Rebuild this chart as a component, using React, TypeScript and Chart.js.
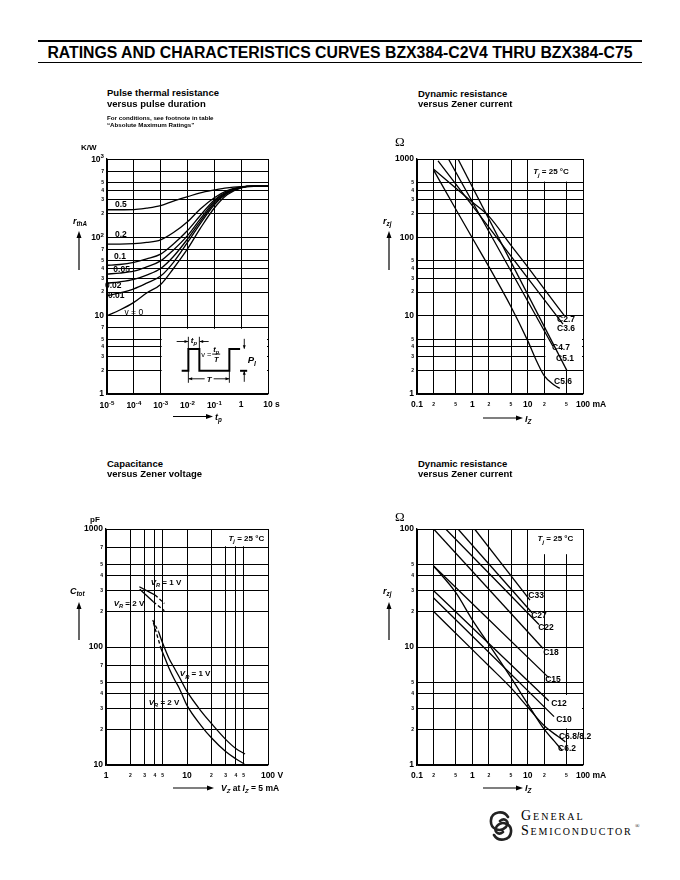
import React, { useEffect, useRef } from 'react';
import { Chart, registerables } from 'chart.js';
Chart.register(...registerables);

const FONT = '"Liberation Sans", Arial, Helvetica, sans-serif';
const SERIF = '"Liberation Serif", "DejaVu Serif", serif';

// ---------------- Figure 1: pulse thermal resistance ----------------
const PULSE_T = [1e-5, 3e-5, 1e-4, 3e-4, 1e-3, 3e-3, 1e-2, 3e-2, 0.1, 0.3, 1, 3, 10];
const RTH_V050 = [225, 225, 226, 236, 254, 290, 330, 370, 402, 428, 444, 450, 450];
const RTH_V020 = [82, 82, 83, 86, 93, 115, 158, 230, 320, 395, 440, 450, 450];
const RTH_V010 = [44, 45, 48, 53, 61, 82, 122, 190, 300, 385, 438, 450, 450];
const RTH_V005 = [34, 35, 37, 42, 50, 69, 105, 172, 288, 378, 436, 450, 450];
const RTH_V002 = [26, 27, 29, 33, 40, 57, 95, 160, 274, 370, 434, 450, 450];
const RTH_V001 = [18, 19.5, 22, 26, 32, 48, 86, 150, 261, 362, 432, 450, 450];
const RTH_V000 = [10, 11.8, 14.8, 19.5, 25, 40, 71, 130, 237, 350, 428, 448, 450];
const DUTY_LABELS = ['0.5', '0.2', '0.1', '0.05', '0.02', '0.01', 'v = 0'];
const T_TICKS = [1e-5, 1e-4, 1e-3, 1e-2, 1e-1, 1, 10];
const T_TICK_LABELS = ['10^-5', '10^-4', '10^-3', '10^-2', '10^-1', '1', '10'];
const RTH_TICKS = [1, 2, 3, 4, 5, 7, 10, 20, 30, 40, 50, 70, 100, 200, 300, 400, 500, 700, 1000];
const RTH_TICK_LABELS = ['1', '2', '3', '4', '5', '7', '10', '2', '3', '4', '5', '7', '10^2', '2', '3', '4', '5', '7', '10^3'];

// ---------------- Figure 2: dynamic resistance C2.7 .. C5.6 ----------------
const RZ1_C27_I = [0.2, 0.5, 1, 2, 5, 10, 20, 46];
const RZ1_C27_R = [740, 425, 281, 185, 79, 42, 21.8, 10];
const RZ1_C36_I = [0.24, 43.5];
const RZ1_C36_R = [945, 7.8];
const RZ1_C47_I = [0.37, 28.4];
const RZ1_C47_R = [1000, 4.1];
const RZ1_C51_I = [0.55, 51];
const RZ1_C51_R = [1000, 2.0];
const RZ1_C56_I = [0.2, 0.5, 1, 2, 5, 10, 15, 20, 30, 38];
const RZ1_C56_R = [720, 230, 98, 42, 13, 4.8, 2.5, 1.7, 1.3, 1.18];
const RZ1_NAMES = ['C2.7', 'C3.6', 'C4.7', 'C5.1', 'C5.6'];

// ---------------- Figure 3: capacitance ----------------
const CAP_VR1_UP_SOLID_V = [2.58, 4.03];
const CAP_VR1_UP_SOLID_C = [324, 276];
const CAP_VR1_UP_DASH_V = [4.03, 5.25];
const CAP_VR1_UP_DASH_C = [276, 234];
const CAP_VR2_UP_SOLID_V = [2.61, 3.84];
const CAP_VR2_UP_SOLID_C = [308, 242];
const CAP_VR2_UP_DASH_V = [3.84, 5.25];
const CAP_VR2_UP_DASH_C = [242, 203];
const CAP_VR1_LO_DASH_V = [3.77, 4.45];
const CAP_VR1_LO_DASH_C = [169, 135];
const CAP_VR2_LO_DASH_V = [3.85, 4.8];
const CAP_VR2_LO_DASH_C = [160, 96];
const CAP_VR1_V = [4.45, 5, 6, 7, 8, 10, 15, 20, 30, 40, 52];
const CAP_VR1_C = [135, 108, 80, 66, 56, 42, 28.5, 22.5, 16.5, 13.8, 12.4];
const CAP_VR2_V = [4.8, 5, 6, 7, 8, 10, 15, 20, 30, 40, 51];
const CAP_VR2_C = [96, 90, 66, 53, 45, 32, 21.5, 17, 13, 11.3, 10.2];
const VZ_TICKS = [1, 2, 3, 4, 5, 10, 20, 30, 40, 50, 100];
const VZ_TICK_LABELS = ['1', '2', '3', '4', '5', '10', '2', '3', '4', '5', '100'];
const CAP_TICKS = [10, 20, 30, 40, 50, 70, 100, 200, 300, 400, 500, 700, 1000];
const CAP_TICK_LABELS = ['10', '2', '3', '4', '5', '7', '100', '2', '3', '4', '5', '7', '1000'];

// ---------------- Figure 4: dynamic resistance C6.2 .. C33 ----------------
const RZ2_C33_I = [1.1, 11];
const RZ2_C33_R = [100, 25];
const RZ2_C27_I = [0.55, 12];
const RZ2_C27_R = [100, 19.5];
const RZ2_C22_I = [0.33, 16];
const RZ2_C22_R = [100, 15.5];
const RZ2_C18_I = [0.2, 19];
const RZ2_C18_R = [100, 9.7];
const RZ2_C15_I = [0.2, 24];
const RZ2_C15_R = [48.5, 5.5];
const RZ2_C12_I = [0.2, 24];
const RZ2_C12_R = [30, 3.5];
const RZ2_C10_I = [0.2, 30];
const RZ2_C10_R = [26, 2.57];
const RZ2_C68_I = [0.2, 1, 2, 5, 10, 20, 35, 48];
const RZ2_C68_R = [20, 9.5, 6.9, 4.5, 3.1, 2.15, 1.75, 1.57];
const RZ2_C62_I = [0.2, 0.5, 1, 2, 5, 10, 20, 30, 42];
const RZ2_C62_R = [48.5, 29, 17, 10.5, 5.5, 3.3, 2.0, 1.6, 1.33];
const RZ2_NAMES = ['C33', 'C27', 'C22', 'C18', 'C15', 'C12', 'C10', 'C6.8/8.2', 'C6.2'];

const IZ_TICKS = [0.1, 0.2, 0.5, 1, 2, 5, 10, 20, 50, 100];
const IZ_TICK_LABELS = ['0.1', '2', '5', '1', '2', '5', '10', '2', '5', '100'];
const RZ1_TICKS = [1, 2, 3, 4, 5, 10, 20, 30, 40, 50, 100, 200, 300, 400, 500, 1000];
const RZ1_TICK_LABELS = ['1', '2', '3', '4', '5', '10', '2', '3', '4', '5', '100', '2', '3', '4', '5', '1000'];
const RZ2_TICKS = [1, 2, 3, 4, 5, 10, 20, 30, 40, 50, 100];
const RZ2_TICK_LABELS = ['1', '2', '3', '4', '5', '10', '2', '3', '4', '5', '100'];

// ---------------- layout ----------------
const PAD = { l: 45, t: 12, r: 32, b: 30 };
const XPAD = 6;
const MAJOR_SIZE = 8.5;
const MINOR_SIZE = 5;
const LINE_H = MAJOR_SIZE * 1.2;
type Rect = { l: number; t: number; r: number; b: number };
const R1: Rect = { l: 107, t: 159, r: 268, b: 394 };
const R2: Rect = { l: 417, t: 159, r: 583, b: 394 };
const R3: Rect = { l: 106, t: 529, r: 268, b: 765 };
const R4: Rect = { l: 417, t: 529, r: 583, b: 765 };

type Seg = { t: string; i?: boolean; sub?: boolean; sup?: boolean };

function drawRich(ctx: any, segs: Seg[], x: number, y: number, size: number, align = 'left', weight = 'bold') {
  const f = (s: Seg) => `${s.i ? 'italic ' : ''}${weight} ${s.sub || s.sup ? size * 0.72 : size}px ${FONT}`;
  let w = 0;
  for (const s of segs) { ctx.font = f(s); w += ctx.measureText(s.t).width; }
  let cx = align === 'center' ? x - w / 2 : align === 'right' ? x - w : x;
  const base = y + size * 0.36;
  ctx.textAlign = 'left';
  ctx.textBaseline = 'alphabetic';
  for (const s of segs) {
    ctx.font = f(s);
    const dy = s.sub ? size * 0.32 : s.sup ? -size * 0.42 : 0;
    ctx.fillText(s.t, cx, base + dy);
    cx += ctx.measureText(s.t).width;
  }
  return w;
}

function powerSegs(label: string): Seg[] {
  const [m, e] = label.split('^');
  return [{ t: m }, { t: e, sup: true }];
}

function arrowHead(ctx: any, x: number, y: number, dir: string, s = 3) {
  ctx.beginPath();
  if (dir === 'r') { ctx.moveTo(x, y); ctx.lineTo(x - s * 1.6, y - s * 0.6); ctx.lineTo(x - s * 1.6, y + s * 0.6); }
  if (dir === 'l') { ctx.moveTo(x, y); ctx.lineTo(x + s * 1.6, y - s * 0.6); ctx.lineTo(x + s * 1.6, y + s * 0.6); }
  if (dir === 'd') { ctx.moveTo(x, y); ctx.lineTo(x - s * 0.6, y - s * 1.6); ctx.lineTo(x + s * 0.6, y - s * 1.6); }
  if (dir === 'u') { ctx.moveTo(x, y); ctx.lineTo(x - s * 0.6, y + s * 1.6); ctx.lineTo(x + s * 0.6, y + s * 1.6); }
  ctx.closePath();
  ctx.fill();
}

function seg(ctx: any, x1: number, y1: number, x2: number, y2: number) {
  ctx.beginPath(); ctx.moveTo(x1, y1); ctx.lineTo(x2, y2); ctx.stroke();
}

function axis(kind: 'x' | 'y', min: number, max: number, ticks: number[], labels: string[], majors: number[]) {
  return {
    type: 'logarithmic',
    position: kind === 'x' ? 'bottom' : 'left',
    min, max,
    afterBuildTicks: (s: any) => { s.ticks = ticks.map((v) => ({ value: v })); },
    afterFit: (s: any) => { if (kind === 'x') s.height = PAD.b; else s.width = PAD.l; },
    ticks: {
      autoSkip: false, maxRotation: 0, minRotation: 0, color: '#000',
      padding: kind === 'x' ? XPAD : 3,
      crossAlign: 'near',
      font: (c: any) => {
        const major = c.tick && majors.includes(c.tick.value);
        const size = major ? MAJOR_SIZE : MINOR_SIZE;
        return { family: FONT, weight: 'bold', size, lineHeight: LINE_H / size };
      },
      callback: (_v: any, i: number) => (labels[i].includes('^') ? '' : labels[i]),
    },
    grid: { color: '#000', lineWidth: 1, drawTicks: false },
    border: { color: '#000', width: 1.3 },
  };
}

function line(xs: number[], ys: number[], dash: number[] = []) {
  return {
    data: xs.map((x, i) => ({ x, y: ys[i] })),
    showLine: true, borderColor: '#000', backgroundColor: '#000', borderWidth: 1.3,
    pointRadius: 0, fill: false, cubicInterpolationMode: 'monotone', borderDash: dash,
  };
}

function overlay(boxes: number[][], draw: (ctx: any, X: (v: number) => number, Y: (v: number) => number, chart: any) => void) {
  return {
    id: 'overlay',
    beforeDatasetsDraw(chart: any) {
      const ctx = chart.ctx, xs = chart.scales.x, ys = chart.scales.y;
      ctx.save();
      ctx.fillStyle = '#fff';
      for (const [x1, x2, y1, y2] of boxes) {
        const L = xs.getPixelForValue(x1) + 1, Rr = xs.getPixelForValue(x2) - 1;
        const T = ys.getPixelForValue(y2) + 1, B = ys.getPixelForValue(y1) - 1;
        ctx.fillRect(L, T, Rr - L, B - T);
      }
      ctx.restore();
    },
    afterDraw(chart: any) {
      const ctx = chart.ctx;
      ctx.save();
      ctx.fillStyle = '#000';
      ctx.strokeStyle = '#000';
      draw(ctx, (v) => chart.scales.x.getPixelForValue(v), (v) => chart.scales.y.getPixelForValue(v), chart);
      ctx.restore();
    },
  };
}

function xLabelY(chart: any) {
  return chart.scales.x.top + XPAD + LINE_H / 2;
}

function unitSuffix(ctx: any, chart: any, value: number, numText: string, unit: string) {
  const xs = chart.scales.x;
  ctx.font = `bold ${MAJOR_SIZE}px ${FONT}`;
  const w = ctx.measureText(numText).width;
  ctx.textAlign = 'left';
  ctx.textBaseline = 'middle';
  ctx.fillText(unit, xs.getPixelForValue(value) + w / 2, xLabelY(chart));
}

function tjLabel(ctx: any, x: number, y: number) {
  drawRich(ctx, [{ t: 'T', i: true }, { t: 'j', i: true, sub: true }, { t: ' = 25 °C' }], x, y, 8, 'center');
}

function makeConfig(datasets: any[], xA: any, yA: any, plugin: any) {
  return {
    type: 'scatter',
    data: { datasets },
    options: {
      responsive: false, animation: false, events: [],
      layout: { padding: { left: 0, top: PAD.t, right: PAD.r, bottom: 0 } },
      plugins: { legend: { display: false }, tooltip: { enabled: false } },
      scales: { x: xA, y: yA },
    },
    plugins: [plugin],
  };
}

// ---------- chart builders ----------
function buildPulse() {
  const series = [RTH_V050, RTH_V020, RTH_V010, RTH_V005, RTH_V002, RTH_V001, RTH_V000];
  const labelPos = [[3.3e-5, 265], [3.3e-5, 107], [3.05e-5, 56], [3.5e-5, 39], [1.7e-5, 24.5], [2.2e-5, 17.8], [1.0e-4, 11]];
  const plugin = overlay([[1e-3, 10, 1, 7]], (ctx, X, Y, chart) => {
    // power-of-ten tick labels
    T_TICKS.forEach((v, i) => {
      if (T_TICK_LABELS[i].includes('^')) drawRich(ctx, powerSegs(T_TICK_LABELS[i]), X(v), xLabelY(chart), MAJOR_SIZE, 'center');
    });
    RTH_TICKS.forEach((v, i) => {
      if (RTH_TICK_LABELS[i].includes('^')) drawRich(ctx, powerSegs(RTH_TICK_LABELS[i]), chart.scales.y.right - 3, Y(v), MAJOR_SIZE, 'right');
    });
    ctx.textAlign = 'center';
    ctx.textBaseline = 'middle';
    DUTY_LABELS.forEach((lb, i) => {
      ctx.font = `${i === 6 ? 'normal' : 'bold'} 8.5px ${FONT}`;
      ctx.fillText(lb, X(labelPos[i][0]), Y(labelPos[i][1]));
    });
    unitSuffix(ctx, chart, 10, '10', ' s');
    // pulse inset
    const ax = X(1e-3), ay = Y(7);
    ctx.lineWidth = 2;
    ctx.beginPath();
    const wave = [[21, 43], [27.7, 43], [27.7, 21.3], [38.7, 21.3], [38.7, 43], [68.7, 43], [68.7, 21.3], [79.4, 21.3]];
    wave.forEach(([dx, dy], k) => (k ? ctx.lineTo(ax + dx, ay + dy) : ctx.moveTo(ax + dx, ay + dy)));
    ctx.stroke();
    seg(ctx, ax + 79.4, ay + 43, ax + 86.5, ay + 43);
    ctx.lineWidth = 0.9;
    seg(ctx, ax + 27.7, ay + 9, ax + 27.7, ay + 21.3);
    seg(ctx, ax + 38.7, ay + 9, ax + 38.7, ay + 21.3);
    seg(ctx, ax + 16, ay + 13.7, ax + 27.2, ay + 13.7);
    arrowHead(ctx, ax + 27.7, ay + 13.7, 'r', 2.4);
    seg(ctx, ax + 48, ay + 13.7, ax + 39.2, ay + 13.7);
    arrowHead(ctx, ax + 38.7, ay + 13.7, 'l', 2.4);
    seg(ctx, ax + 27.7, ay + 43, ax + 27.7, ay + 55);
    seg(ctx, ax + 68.7, ay + 43, ax + 68.7, ay + 55);
    seg(ctx, ax + 28, ay + 51, ax + 44, ay + 51);
    seg(ctx, ax + 53, ay + 51, ax + 68.4, ay + 51);
    arrowHead(ctx, ax + 27.7, ay + 51, 'l', 2.4);
    arrowHead(ctx, ax + 68.7, ay + 51, 'r', 2.4);
    seg(ctx, ax + 83.6, ay + 11, ax + 83.6, ay + 20.8);
    arrowHead(ctx, ax + 83.6, ay + 21.3, 'd', 2.4);
    seg(ctx, ax + 83.6, ay + 54, ax + 83.6, ay + 43.5);
    arrowHead(ctx, ax + 83.6, ay + 43, 'u', 2.4);
    drawRich(ctx, [{ t: 't', i: true }, { t: 'p', i: true, sub: true }], ax + 33.2, ay + 12, 8, 'center');
    drawRich(ctx, [{ t: 'T', i: true }], ax + 48.5, ay + 51, 8, 'center');
    drawRich(ctx, [{ t: 'v =' }], ax + 40.5, ay + 26.5, 7.5, 'left', 'normal');
    drawRich(ctx, [{ t: 't', i: true }, { t: 'p', i: true, sub: true }], ax + 55.5, ay + 21.5, 7.5, 'center');
    ctx.lineWidth = 0.9;
    seg(ctx, ax + 51.5, ay + 26.3, ax + 59.5, ay + 26.3);
    drawRich(ctx, [{ t: 'T', i: true }], ax + 55.5, ay + 31, 7.5, 'center');
    drawRich(ctx, [{ t: 'P', i: true }, { t: 'I', i: true, sub: true }], ax + 87, ay + 31.5, 9.5, 'left');
  });
  return makeConfig(
    series.map((s) => line(PULSE_T, s)),
    axis('x', 1e-5, 10, T_TICKS, T_TICK_LABELS, [1e-5, 1e-4, 1e-3, 1e-2, 1e-1, 1, 10]),
    axis('y', 1, 1000, RTH_TICKS, RTH_TICK_LABELS, [1, 10, 100, 1000]),
    plugin,
  );
}

function buildRz1() {
  const labelPos = [[49.3, 8.8], [49.3, 6.76], [40, 3.93], [47.3, 2.84], [43.6, 1.44]];
  const plugin = overlay([[10, 100, 500, 1000], [20, 100, 2, 10]], (ctx, X, Y, chart) => {
    tjLabel(ctx, X(26.4), Y(700));
    ctx.textAlign = 'center';
    ctx.textBaseline = 'middle';
    ctx.font = `bold 8.5px ${FONT}`;
    RZ1_NAMES.forEach((n, i) => ctx.fillText(n, X(labelPos[i][0]), Y(labelPos[i][1])));
    unitSuffix(ctx, chart, 100, '100', ' mA');
  });
  return makeConfig(
    [
      line(RZ1_C27_I, RZ1_C27_R), line(RZ1_C36_I, RZ1_C36_R), line(RZ1_C47_I, RZ1_C47_R),
      line(RZ1_C51_I, RZ1_C51_R), line(RZ1_C56_I, RZ1_C56_R),
    ],
    axis('x', 0.1, 100, IZ_TICKS, IZ_TICK_LABELS, [0.1, 1, 10, 100]),
    axis('y', 1, 1000, RZ1_TICKS, RZ1_TICK_LABELS, [1, 10, 100, 1000]),
    plugin,
  );
}

function buildCap() {
  const vr = (n: string): Seg[] => [{ t: 'V', i: true }, { t: 'R', i: true, sub: true }, { t: ` = ${n} V` }];
  const plugin = overlay([[20, 100, 700, 1000]], (ctx, X, Y, chart) => {
    tjLabel(ctx, X(54), Y(840));
    drawRich(ctx, vr('1'), X(5.5), Y(356), 8, 'center');
    drawRich(ctx, vr('2'), X(1.92), Y(236), 8, 'center');
    drawRich(ctx, vr('1'), X(12.6), Y(60), 8, 'center');
    drawRich(ctx, vr('2'), X(5.2), Y(34.2), 8, 'center');
    unitSuffix(ctx, chart, 100, '100', ' V');
  });
  const D = [3.5, 2.5];
  return makeConfig(
    [
      line(CAP_VR1_UP_SOLID_V, CAP_VR1_UP_SOLID_C), line(CAP_VR1_UP_DASH_V, CAP_VR1_UP_DASH_C, D),
      line(CAP_VR2_UP_SOLID_V, CAP_VR2_UP_SOLID_C), line(CAP_VR2_UP_DASH_V, CAP_VR2_UP_DASH_C, D),
      line(CAP_VR1_LO_DASH_V, CAP_VR1_LO_DASH_C, D), line(CAP_VR2_LO_DASH_V, CAP_VR2_LO_DASH_C, D),
      line(CAP_VR1_V, CAP_VR1_C), line(CAP_VR2_V, CAP_VR2_C),
    ],
    axis('x', 1, 100, VZ_TICKS, VZ_TICK_LABELS, [1, 10, 100]),
    axis('y', 10, 1000, CAP_TICKS, CAP_TICK_LABELS, [10, 100, 1000]),
    plugin,
  );
}

function buildRz2() {
  const labelPos = [[14.2, 27.1], [16, 18.3], [21.4, 14.6], [26.4, 8.9], [28.7, 5.25], [36.8, 3.29], [45.4, 2.4], [71.8, 1.74], [51.4, 1.37]];
  const plugin = overlay([[10, 100, 60, 100], [20, 100, 2, 4]], (ctx, X, Y, chart) => {
    tjLabel(ctx, X(31.8), Y(83.4));
    ctx.textAlign = 'center';
    ctx.textBaseline = 'middle';
    ctx.font = `bold 8.5px ${FONT}`;
    RZ2_NAMES.forEach((n, i) => ctx.fillText(n, X(labelPos[i][0]), Y(labelPos[i][1])));
    unitSuffix(ctx, chart, 100, '100', ' mA');
  });
  return makeConfig(
    [
      line(RZ2_C33_I, RZ2_C33_R), line(RZ2_C27_I, RZ2_C27_R), line(RZ2_C22_I, RZ2_C22_R),
      line(RZ2_C18_I, RZ2_C18_R), line(RZ2_C15_I, RZ2_C15_R), line(RZ2_C12_I, RZ2_C12_R),
      line(RZ2_C10_I, RZ2_C10_R), line(RZ2_C68_I, RZ2_C68_R), line(RZ2_C62_I, RZ2_C62_R),
    ],
    axis('x', 0.1, 100, IZ_TICKS, IZ_TICK_LABELS, [0.1, 1, 10, 100]),
    axis('y', 1, 100, RZ2_TICKS, RZ2_TICK_LABELS, [1, 10, 100]),
    plugin,
  );
}

function ChartPanel({ rect, build }: { rect: Rect; build: () => any }) {
  const ref = useRef<HTMLCanvasElement>(null);
  const W = rect.r - rect.l + PAD.l + PAD.r;
  const H = rect.b - rect.t + PAD.t + PAD.b;
  useEffect(() => {
    const chart = new Chart(ref.current as HTMLCanvasElement, build() as any);
    return () => chart.destroy();
  }, []);
  return (
    <canvas
      ref={ref}
      width={W}
      height={H}
      style={{ position: 'absolute', left: rect.l - PAD.l, top: rect.t - PAD.t, width: W, height: H }}
    />
  );
}

function Txt({ x, y, size, children, w = 'bold', it = false, fam = FONT, extra = {} }: any) {
  return (
    <div
      style={{
        position: 'absolute', left: x, top: y - size * 0.55, fontSize: size, lineHeight: 1,
        fontWeight: w, fontStyle: it ? 'italic' : 'normal', fontFamily: fam, whiteSpace: 'nowrap', ...extra,
      }}
    >
      {children}
    </div>
  );
}

const Sub = ({ children }: any) => (
  <span style={{ fontSize: '70%', verticalAlign: '-0.3em' }}>{children}</span>
);

const PAGE_TITLE = 'RATINGS AND CHARACTERISTICS CURVES BZX384-C2V4 THRU BZX384-C75';

function UpArrow({ x, y1, y2 }: any) {
  return (
    <g>
      <line x1={x} y1={y1} x2={x} y2={y2 + 5} stroke="#000" strokeWidth={1.2} />
      <polygon points={`${x},${y2} ${x - 2.5},${y2 + 7} ${x + 2.5},${y2 + 7}`} fill="#000" />
    </g>
  );
}
function RightArrow({ y, x1, x2 }: any) {
  return (
    <g>
      <line x1={x1} y1={y} x2={x2 - 5} y2={y} stroke="#000" strokeWidth={1.2} />
      <polygon points={`${x2},${y} ${x2 - 7},${y - 2.5} ${x2 - 7},${y + 2.5}`} fill="#000" />
    </g>
  );
}

export default function App() {
  return (
    <div style={{ position: 'absolute', left: 0, top: 0, width: 680, height: 880, background: '#fff', color: '#000', fontFamily: FONT, overflow: 'hidden' }}>
      <div style={{ position: 'absolute', left: 38, top: 40, width: 604, height: 2, background: '#000' }} />
      <div style={{ position: 'absolute', left: 38, top: 62, width: 604, height: 1, background: '#000' }} />
      <div style={{ position: 'absolute', left: 38, top: 44, width: 604, textAlign: 'center', fontWeight: 'bold', fontSize: 15.8, lineHeight: '17px', whiteSpace: 'nowrap' }}>
        {PAGE_TITLE}
      </div>

      <ChartPanel rect={R1} build={buildPulse} />
      <ChartPanel rect={R2} build={buildRz1} />
      <ChartPanel rect={R3} build={buildCap} />
      <ChartPanel rect={R4} build={buildRz2} />

      {/* figure 1 texts */}
      <Txt x={107} y={93} size={9.5}>Pulse thermal resistance</Txt>
      <Txt x={107} y={104} size={9.5}>versus pulse duration</Txt>
      <Txt x={107} y={118} size={6.2}>For conditions, see footnote in table</Txt>
      <Txt x={107} y={125} size={6.2}>“Absolute Maximum Ratings”</Txt>
      <Txt x={81} y={148.5} size={8}>K/W</Txt>
      <Txt x={73} y={222} size={9} it>r<Sub>thA</Sub></Txt>
      <Txt x={215} y={418} size={9} it>t<Sub>p</Sub></Txt>

      {/* figure 2 texts */}
      <Txt x={418} y={94} size={9.5}>Dynamic resistance</Txt>
      <Txt x={418} y={104.5} size={9.5}>versus Zener current</Txt>
      <Txt x={395} y={142} size={13} w="normal" fam={SERIF}>Ω</Txt>
      <Txt x={383} y={222} size={9} it>r<Sub>zj</Sub></Txt>
      <Txt x={525} y={420} size={9} it>I<Sub>Z</Sub></Txt>

      {/* figure 3 texts */}
      <Txt x={107} y={464} size={9.5}>Capacitance</Txt>
      <Txt x={107} y={474.5} size={9.5}>versus Zener voltage</Txt>
      <Txt x={90} y={520} size={8}>pF</Txt>
      <Txt x={70} y={592} size={9} it>C<Sub>tot</Sub></Txt>
      <Txt x={221} y={789} size={8.5}>
        <i>V<Sub>Z</Sub></i> at <i>I<Sub>Z</Sub></i> = 5 mA
      </Txt>

      {/* figure 4 texts */}
      <Txt x={418} y={464} size={9.5}>Dynamic resistance</Txt>
      <Txt x={418} y={474.5} size={9.5}>versus Zener current</Txt>
      <Txt x={395} y={517} size={13} w="normal" fam={SERIF}>Ω</Txt>
      <Txt x={383} y={592} size={9} it>r<Sub>zj</Sub></Txt>
      <Txt x={525} y={789} size={9} it>I<Sub>Z</Sub></Txt>

      {/* logo */}
      <Txt x={521} y={817} size={14} w="normal" fam={SERIF} extra={{ fontVariant: 'small-caps', letterSpacing: 2 }}>General</Txt>
      <Txt x={521} y={832} size={14} w="normal" fam={SERIF} extra={{ fontVariant: 'small-caps', letterSpacing: 1.8 }}>Semiconductor</Txt>
      <Txt x={635} y={826} size={6} w="normal" fam={SERIF}>®</Txt>

      <svg width={680} height={880} style={{ position: 'absolute', left: 0, top: 0, pointerEvents: 'none' }}>
        <UpArrow x={79} y1={270} y2={231} />
        <UpArrow x={389} y1={270} y2={231} />
        <UpArrow x={79} y1={640} y2={602} />
        <UpArrow x={389} y1={640} y2={602} />
        <RightArrow y={416.5} x1={173} x2={213} />
        <RightArrow y={418} x1={483} x2={523} />
        <RightArrow y={788} x1={173} x2={214} />
        <RightArrow y={788} x1={483} x2={523} />
        <g fill="none" stroke="#222" strokeWidth={2.6} strokeLinecap="round">
          <path d="M508 817 C504 810, 492 811, 491 820 C490 829, 500 833, 506 827 C510 822, 505 817, 500 821" />
          <path d="M494 835 C498 842, 510 841, 511 832 C512 824, 502 820, 497 826 C493 831, 498 836, 503 832" />
        </g>
      </svg>
    </div>
  );
}
